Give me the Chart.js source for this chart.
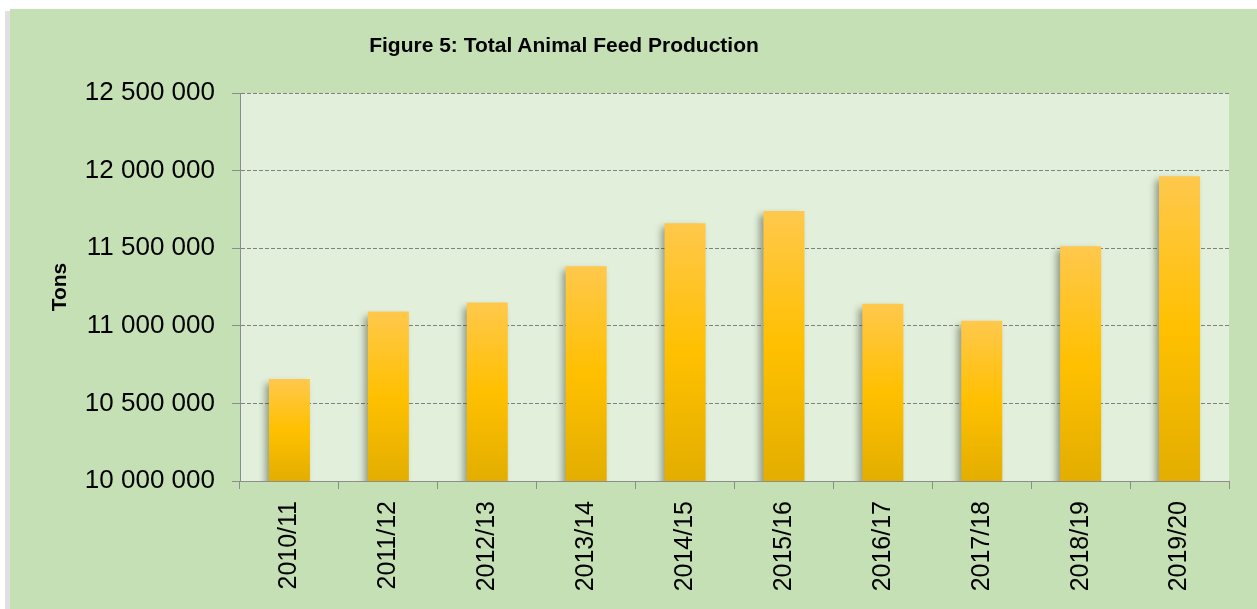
<!DOCTYPE html>
<html lang="en">
<head>
    <meta charset="UTF-8">
    <title>Total Animal Feed Production</title>
    <script src="https://cdn.jsdelivr.net/npm/chart.js"></script>
    <style>
        body {
            margin: 0;
            background: #ffffff;
            overflow: hidden;
            font-family: 'Liberation Sans', Arial, sans-serif;
        }

        .frame {
            position: absolute;
            left: 10px;
            top: 9px;
            width: 1247px;
            height: 600px;
            background: #c5e0b4;
            box-shadow: -5px 2px 0 #e0e0e0;
        }

        .chart-title {
            position: absolute;
            left: 554px; /* centre of the title, not of the frame */
            top: 24px;
            transform: translateX(-50%);
            white-space: nowrap;
            font-weight: bold;
            font-size: 21px;
            color: #000;
        }

        .chart-box {
            position: absolute;
            left: 0;
            top: 0;
            width: 1247px;
            height: 600px;
        }
    </style>
</head>
<body>
    <div class="frame">
        <div class="chart-box">
            <canvas id="feedChart"></canvas>
        </div>
        <div class="chart-title">Figure 5: Total Animal Feed Production</div>
    </div>

    <script>
        const seasons = ['2010/11', '2011/12', '2012/13', '2013/14', '2014/15',
                         '2015/16', '2016/17', '2017/18', '2018/19', '2019/20'];
        const feedTons = [10658000, 11092000, 11150000, 11384000, 11661000,
                          11739000, 11142000, 11032000, 11513000, 11963000];
        const yMin = 10000000;
        const yMax = 12500000;
        const yStep = 500000;
        const axisTitle = 'Tons';

        const axisGrey = '#8c8c8c';
        const fontName = "'Liberation Sans', Arial, sans-serif";

        function spaced(n) {
            return String(n).replace(/\B(?=(\d{3})+(?!\d))/g, ' ');
        }

        // light green plot area
        const plotBackground = {
            id: 'plotBackground',
            beforeDraw(chart) {
                const a = chart.chartArea;
                const ctx = chart.ctx;
                ctx.save();
                ctx.fillStyle = '#e2efda';
                ctx.fillRect(a.left, a.top, a.right - a.left, a.bottom - a.top);
                ctx.restore();
            }
        };

        // soft shadow behind the bars
        const barShadow = {
            id: 'barShadow',
            beforeDatasetsDraw(chart) {
                const ctx = chart.ctx;
                ctx.save();
                ctx.shadowColor = 'rgba(40, 50, 30, 0.45)';
                ctx.shadowBlur = 7;
                ctx.shadowOffsetX = -4;
                ctx.shadowOffsetY = 4;
            },
            afterDatasetsDraw(chart) {
                chart.ctx.restore();
            }
        };

        function barGradient(context) {
            const chart = context.chart;
            const area = chart.chartArea;
            if (!area || context.type !== 'data') return '#ffc000';
            const top = chart.scales.y.getPixelForValue(context.raw);
            const g = chart.ctx.createLinearGradient(0, top, 0, area.bottom);
            g.addColorStop(0, '#ffc84c');
            g.addColorStop(0.5, '#ffc000');
            g.addColorStop(1, '#e3ae00');
            return g;
        }

        new Chart(document.getElementById('feedChart'), {
            type: 'bar',
            data: {
                labels: seasons,
                datasets: [{
                    data: feedTons,
                    backgroundColor: barGradient,
                    borderWidth: 0,
                    categoryPercentage: 1,
                    barPercentage: 0.415
                }]
            },
            options: {
                responsive: true,
                maintainAspectRatio: false,
                animation: false,
                layout: {
                    padding: { left: 0, top: 84, right: 28, bottom: 0 }
                },
                scales: {
                    x: {
                        afterFit(scale) { scale.height = 128; },
                        ticks: {
                            color: '#000',
                            font: { family: fontName, size: 25 },
                            minRotation: 90,
                            maxRotation: 90,
                            autoSkip: false,
                            padding: 12
                        },
                        grid: {
                            drawOnChartArea: false,
                            drawTicks: true,
                            tickLength: 8,
                            tickColor: axisGrey,
                            color: axisGrey
                        },
                        border: { color: axisGrey, width: 1 }
                    },
                    y: {
                        min: yMin,
                        max: yMax,
                        afterFit(scale) { scale.width = 230; },
                        ticks: {
                            stepSize: yStep,
                            color: '#000',
                            font: { family: fontName, size: 26 },
                            padding: 17,
                            callback: v => spaced(v)
                        },
                        grid: {
                            color: ctx => ctx.index === 0 ? 'rgba(0,0,0,0)' : '#808080',
                            lineWidth: 1,
                            tickLength: 8,
                            tickColor: axisGrey,
                            tickBorderDash: []
                        },
                        border: { color: axisGrey, width: 1, dash: [4, 2] },
                        title: {
                            display: true,
                            text: axisTitle,
                            color: '#000',
                            font: { family: fontName, size: 21, weight: 'bold' },
                            padding: { top: 38, bottom: 0 }
                        }
                    }
                },
                plugins: {
                    legend: { display: false },
                    title: { display: false },
                    tooltip: { enabled: false }
                }
            },
            plugins: [plotBackground, barShadow]
        });
    </script>
</body>
</html>
